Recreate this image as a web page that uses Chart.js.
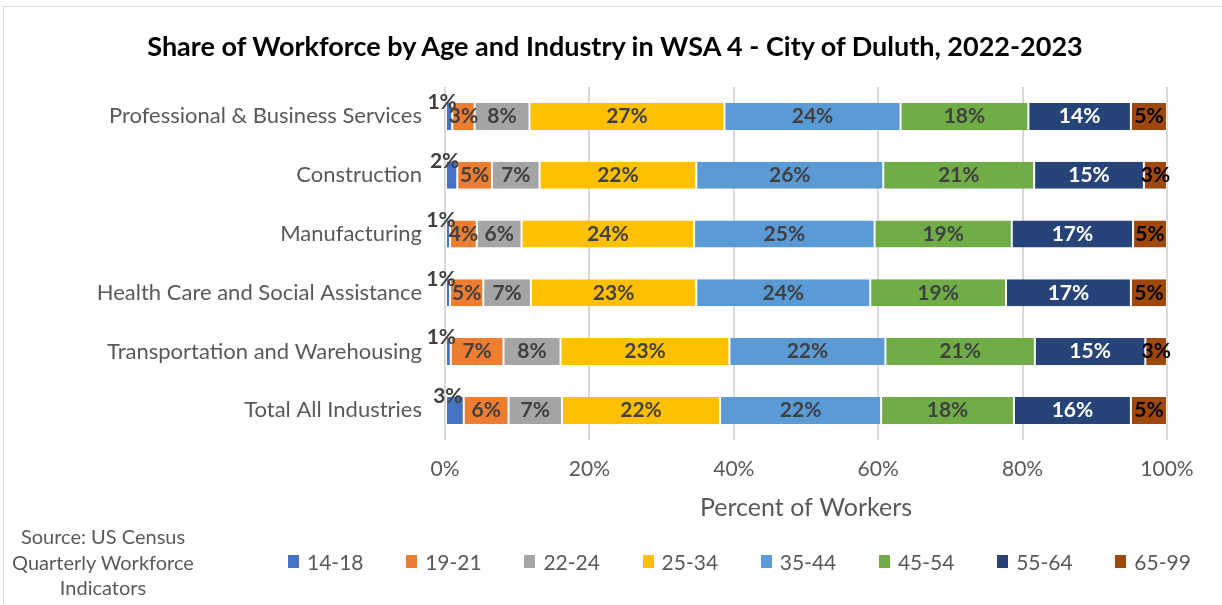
<!DOCTYPE html>
<html>
<head>
<meta charset="utf-8">
<script src="https://cdn.jsdelivr.net/npm/chart.js@4"></script>
<style>
  body { margin: 0; background: #fff; font-family: Lato, "Open Sans", sans-serif; }
  #wrap { position: relative; width: 1222px; height: 605px; overflow: hidden; }
  #frame { position: absolute; left: 3px; top: 6px; width: 1300px; height: 700px; border: 1px solid #d9d9d9; box-sizing: border-box; }
  #chart { position: absolute; left: 0; top: 0; }
  #title { position: absolute; left: 0; width: 1230px; top: 30px; line-height: 32px; text-align: center; font-size: 27px; font-weight: bold; color: #000; white-space: nowrap; }
  #source { position: absolute; left: 3px; width: 200px; top: 524px; text-align: center; color: #595959; font-size: 20px; line-height: 25.5px; }
  #legend { position: absolute; left: 288px; top: 549px; display: flex; }
  .item { width: 118.2px; display: flex; align-items: center; color: #595959; font-size: 21px; }
  .box { width: 11px; height: 13px; margin-right: 8px; }
</style>
</head>
<body>
<div id="wrap">
  <div id="frame"></div>
  <canvas id="chart" width="1222" height="605"></canvas>
  <div id="title">Share of Workforce by Age and Industry in WSA 4 - City of Duluth, 2022-2023</div>
  <div id="source">Source: US Census<br>Quarterly Workforce<br>Indicators</div>
  <div id="legend"></div>
</div>
<script>
// categories, top to bottom
const industries = [
  'Professional & Business Services',
  'Construction',
  'Manufacturing',
  'Health Care and Social Assistance',
  'Transportation and Warehousing',
  'Total All Industries'
];

// share of workers (%) by age group
const age1418 = [1.0, 1.7, 0.7, 0.7, 0.8, 2.6];
const age1921 = [3.1, 4.8, 3.7, 4.6, 7.3, 6.2];
const age2224 = [7.6, 6.6, 6.2, 6.6, 7.9, 7.4];
const age2534 = [27.0, 21.7, 23.9, 22.9, 23.4, 21.9];
const age3544 = [24.4, 25.9, 25.0, 24.1, 21.6, 22.3];
const age4554 = [17.7, 20.9, 19.0, 18.8, 20.7, 18.4];
const age5564 = [14.2, 15.2, 16.8, 17.3, 15.3, 16.2];
const age6599 = [5.0, 3.2, 4.7, 5.0, 3.0, 5.0];

const ageGroups = ['14-18', '19-21', '22-24', '25-34', '35-44', '45-54', '55-64', '65-99'];
const colors = ['#4472C4', '#ED7D31', '#A5A5A5', '#FFC000', '#5B9BD5', '#70AD47', '#264478', '#9E480E'];
const labelColors = ['#404040', '#404040', '#404040', '#404040', '#404040', '#404040', '#ffffff', '#000000'];
const xTicks = [0, 20, 40, 60, 80, 100];

const series = [age1418, age1921, age2224, age2534, age3544, age4554, age5564, age6599];
const FONT = 'Lato, "Open Sans", sans-serif';

// segment labels; the tiny 14-18 segment gets its label lifted above the bar
const segmentLabels = {
  id: 'segmentLabels',
  afterDatasetsDraw(chart) {
    const c = chart.ctx;
    c.save();
    c.font = 'bold 21px ' + FONT;
    c.textAlign = 'center';
    c.textBaseline = 'middle';
    chart.data.datasets.forEach((ds, i) => {
      chart.getDatasetMeta(i).data.forEach((bar, j) => {
        let x = (bar.x + bar.base) / 2;
        let y = bar.y;
        if (i === 0) { x -= 7; y -= 14; }
        c.fillStyle = labelColors[i];
        c.fillText(Math.round(ds.data[j]) + '%', x, y);
      });
    });
    c.restore();
  }
};

new Chart(document.getElementById('chart'), {
  type: 'bar',
  data: {
    labels: industries,
    datasets: series.map((d, i) => ({
      label: ageGroups[i],
      data: d,
      backgroundColor: colors[i],
      borderColor: 'rgba(255,255,255,0.7)',
      borderWidth: { left: 1, right: 1 },
      borderSkipped: false,
      barPercentage: 0.46,
      categoryPercentage: 1
    }))
  },
  options: {
    indexAxis: 'y',
    responsive: false,
    animation: false,
    layout: { padding: { left: 0, right: 55, top: 87, bottom: 80 } },
    plugins: {
      legend: { display: false },
      tooltip: { enabled: false },
      title: { display: false }
    },
    scales: {
      x: {
        stacked: true,
        min: 0,
        max: 100,
        afterBuildTicks: s => { s.ticks = xTicks.map(v => ({ value: v })); },
        ticks: { callback: v => v + '%', color: '#595959', font: { family: FONT, size: 21 }, padding: 17 },
        grid: { color: '#d9d9d9', lineWidth: 2, drawTicks: false },
        border: { display: false },
        title: {
          display: true,
          text: 'Percent of Workers',
          color: '#595959',
          font: { family: FONT, size: 25 },
          padding: { top: -6, bottom: 2 }
        }
      },
      y: {
        stacked: true,
        afterFit: s => { s.width = 445; },
        ticks: { color: '#595959', font: { family: FONT, size: 22 }, padding: 23 },
        grid: { display: false, drawTicks: false },
        border: { display: false }
      }
    }
  },
  plugins: [segmentLabels]
});

// legend
const legend = document.getElementById('legend');
ageGroups.forEach((g, i) => {
  const item = document.createElement('div');
  item.className = 'item';
  item.innerHTML = '<span class="box" style="background:' + colors[i] + '"></span>' + g;
  legend.appendChild(item);
});
</script>
</body>
</html>
